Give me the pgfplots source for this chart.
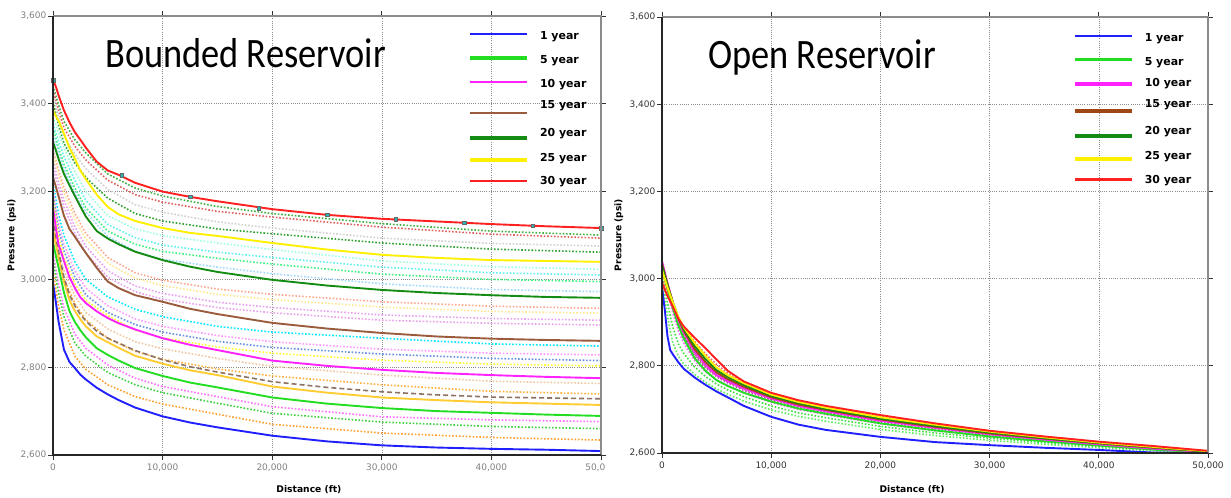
\documentclass[border=0pt]{standalone}
\usepackage{fontspec}
\setmainfont{DejaVu Sans}
\newfontfamily\titlefont{Carlito}
\usepackage{graphicx}
\usepackage{pgfplots}
\usepackage{pgfplotstable}
\pgfplotsset{compat=1.18}

\definecolor{c1y}{HTML}{2020FF}
\definecolor{c5y}{HTML}{22DD22}
\definecolor{c10y}{HTML}{FF22FF}
\definecolor{c15y}{HTML}{9A5C3C}
\definecolor{c15r}{HTML}{A04614}
\definecolor{c20y}{HTML}{148C14}
\definecolor{c25y}{HTML}{FFF000}
\definecolor{c30y}{HTML}{FF2020}
\definecolor{cgold}{HTML}{FFCC33}
\definecolor{cdash}{HTML}{8C7262}
\definecolor{cmark}{HTML}{30B4B4}
% pastel dotted curves
\definecolor{d1}{HTML}{40B040}
\definecolor{d2}{HTML}{E06060}
\definecolor{d3}{HTML}{D0D0D0}
\definecolor{d4}{HTML}{30A030}
\definecolor{d5}{HTML}{A0FFE0}
\definecolor{d6}{HTML}{60F0F0}
\definecolor{d7}{HTML}{40F080}
\definecolor{d8}{HTML}{A0D8FF}
\definecolor{d9}{HTML}{FFA890}
\definecolor{d10}{HTML}{FFE890}
\definecolor{d11}{HTML}{E8A0F0}
\definecolor{d12}{HTML}{E8A0E8}
\definecolor{d13}{HTML}{00E8FF}
\definecolor{d14}{HTML}{FF98FF}
\definecolor{d15}{HTML}{6890E0}
\definecolor{d16}{HTML}{FFFF30}
\definecolor{d17}{HTML}{F0C8A0}
\definecolor{d18}{HTML}{FFB040}
\definecolor{d19}{HTML}{FF70FF}
\definecolor{d20}{HTML}{40D040}
\definecolor{d21}{HTML}{FFA030}
\definecolor{o1}{HTML}{60F060}
\definecolor{o2}{HTML}{40E040}
\definecolor{o3}{HTML}{FF60FF}
\definecolor{o4}{HTML}{D040D0}
\definecolor{o5}{HTML}{E8E800}
\definecolor{o6}{HTML}{F06060}
\definecolor{o7}{HTML}{30A030}
\definecolor{o8}{HTML}{B08060}

% bounded reservoir, solid curves
\pgfplotstableread{
x     blue green gold dash mag  brown dgreen yellow red
0     2992 3085 3110 3140 3165 3233 3313 3386 3454
250   2950 3055 3080 3100 3120 3212 3295 3372 3440
500   2905 3028 3053 3065 3080 3190 3275 3362 3420
1000  2840 2970 2995 3005 3042 3145 3240 3332 3385
1500  2812 2928 2953 2965 3005 3115 3215 3300 3358
2000  2798 2903 2928 2940 2980 3097 3190 3275 3335
2500  2783 2884 2909 2920 2959 3078 3166 3248 3318
3000  2772 2868 2893 2905 2946 3060 3143 3228 3300
4000  2753 2843 2870 2882 2927 3026 3110 3193 3268
5000  2738 2828 2857 2866 2912 2995 3093 3165 3248
6000  2725 2815 2844 2855 2900 2980 3080 3148 3238
7500  2708 2798 2826 2838 2886 2964 3063 3133 3220
10000 2688 2780 2808 2817 2866 2949 3044 3117 3200
12500 2674 2765 2793 2801 2851 2933 3029 3106 3188
15000 2663 2754 2782 2789 2839 2921 3017 3099 3178
20000 2644 2731 2756 2767 2815 2901 2999 3083 3160
25000 2631 2717 2742 2754 2803 2888 2986 3068 3147
30000 2622 2707 2731 2744 2794 2878 2976 3056 3138
35000 2617 2700 2725 2737 2787 2870 2969 3049 3132
40000 2614 2696 2720 2732 2782 2865 2964 3044 3126
45000 2612 2692 2717 2730 2778 2862 2960 3042 3121
50000 2609 2689 2714 2728 2775 2860 2958 3040 3117
}\bsolid

% bounded reservoir, dotted curves
\pgfplotstableread{
x     d1   d2   d3   d4   d5   d6   d7   d8   d9   d10  d11  d12  d13  d14  d15  d16  d17  d18  d19  d20  d21
0     3441 3432 3420 3405 3370 3355 3345 3330 3295 3285 3270 3255 3220 3205 3195 3185 3150 3130 3060 3045 3020
500   3398 3385 3370 3352 3335 3315 3300 3290 3250 3238 3222 3208 3150 3130 3115 3100 3065 3045 2990 2970 2940
1000  3360 3345 3328 3310 3300 3280 3262 3252 3210 3197 3180 3165 3100 3080 3065 3050 3020 3000 2935 2915 2885
2000  3318 3303 3285 3265 3245 3225 3208 3198 3150 3137 3120 3105 3040 3020 3005 2990 2962 2945 2875 2855 2825
3000  3288 3272 3252 3232 3200 3180 3163 3153 3105 3092 3075 3060 3000 2980 2965 2952 2925 2908 2843 2825 2795
5000  3240 3226 3205 3185 3145 3125 3110 3098 3050 3037 3020 3005 2960 2940 2925 2918 2887 2866 2805 2788 2760
7500  3208 3193 3170 3150 3115 3095 3080 3064 3015 3003 2985 2972 2932 2910 2897 2884 2858 2836 2775 2760 2733
10000 3190 3176 3153 3133 3100 3078 3064 3046 2998 2986 2968 2955 2915 2893 2880 2867 2842 2818 2756 2742 2716
15000 3166 3155 3131 3115 3083 3062 3048 3028 2978 2966 2948 2936 2893 2872 2859 2846 2820 2796 2733 2718 2693
20000 3150 3142 3117 3104 3068 3050 3035 3013 2966 2954 2936 2924 2880 2858 2845 2832 2802 2780 2710 2695 2670
30000 3127 3119 3094 3083 3042 3028 3012 2990 2949 2937 2919 2907 2866 2841 2830 2816 2782 2760 2687 2675 2650
40000 3110 3103 3082 3069 3029 3015 3000 2977 2939 2927 2911 2900 2853 2832 2820 2807 2768 2745 2680 2665 2640
50000 3101 3094 3076 3062 3023 3010 2995 2972 2934 2923 2907 2896 2848 2828 2815 2803 2763 2739 2676 2660 2634
}\bdot

% open reservoir, solid curves
\pgfplotstableread{
x     blue green mag  brown dgreen yellow red
0     2981 3030 3040 3035 3030 3020 2990
250   2930 3005 3015 3011 3007 3000 2975
500   2868 2980 2990 2988 2985 2980 2960
750   2836 2955 2967 2966 2964 2962 2948
1000  2826 2932 2945 2945 2945 2945 2935
1500  2808 2892 2905 2908 2910 2912 2908
2000  2793 2862 2876 2880 2884 2888 2890
3000  2773 2817 2832 2838 2845 2852 2864
4000  2756 2788 2802 2808 2815 2822 2840
5000  2741 2767 2779 2785 2790 2796 2814
6000  2728 2754 2765 2770 2775 2779 2789
7500  2708 2738 2748 2752 2756 2760 2764
10000 2683 2718 2725 2728 2731 2734 2738
12500 2665 2702 2708 2711 2714 2717 2721
15000 2653 2690 2696 2699 2701 2704 2708
20000 2637 2668 2674 2677 2679 2682 2687
25000 2625 2652 2658 2660 2662 2665 2668
30000 2618 2638 2643 2645 2647 2649 2651
35000 2612 2627 2631 2633 2634 2636 2638
40000 2607 2617 2620 2622 2623 2624 2626
45000 2601 2608 2610 2612 2613 2614 2616
50000 2600 2601 2602 2603 2603 2604 2605
}\osolid

% open reservoir, dotted curves
\pgfplotstableread{
x     o1   o2   o3   o4   o5   o6   o7   o8
0     2995 3010 3025 3032 3015 3000 3020 3028
250   2955 2978 2998 3006 2995 2984 2998 3003
500   2915 2945 2970 2980 2975 2968 2974 2978
750   2880 2915 2944 2956 2956 2954 2952 2955
1000  2852 2888 2920 2934 2938 2940 2932 2934
1500  2822 2850 2880 2895 2904 2910 2896 2897
2000  2804 2828 2852 2866 2878 2888 2868 2869
3000  2780 2797 2812 2823 2838 2855 2828 2827
4000  2762 2775 2786 2795 2808 2827 2800 2798
5000  2747 2758 2768 2775 2786 2803 2781 2777
6000  2735 2745 2755 2761 2771 2784 2767 2763
7500  2719 2729 2738 2743 2752 2762 2750 2746
10000 2699 2708 2716 2720 2728 2736 2727 2723
12500 2684 2692 2700 2704 2712 2719 2710 2707
15000 2673 2681 2688 2692 2700 2706 2698 2695
20000 2654 2661 2667 2671 2679 2685 2677 2674
25000 2640 2646 2651 2655 2662 2666 2660 2657
30000 2629 2634 2638 2641 2647 2650 2645 2643
35000 2620 2624 2627 2630 2634 2637 2633 2631
40000 2612 2615 2617 2619 2623 2625 2622 2620
45000 2605 2607 2608 2609 2612 2614 2611 2610
50000 2600 2601 2601 2601 2602 2604 2602 2601
}\odot

\pgfplotsset{
  resv/.style={
    scale only axis, clip mode=individual,
    xmin=0, xmax=50000, ymin=2600, ymax=3600,
    xtick={0,10000,...,50000}, ytick={2600,2800,...,3600},
    scaled x ticks=false, scaled y ticks=false,
    /pgf/number format/1000 sep={,},
    /pgf/number format/assume math mode=true,
    tick align=outside, major tick length=5bp,
    tick style={black!80, line width=0.8bp},
    axis line style={draw=none},
    grid=major, grid style={black!45, line width=0.6bp, dash pattern=on 1bp off 1.2bp},
    ticklabel style={font=\fontsize{9}{10}\selectfont},
    xticklabel style={inner sep=1bp, yshift=-3bp},
    yticklabel style={inner sep=1.5bp},
    label style={font=\bfseries\fontsize{9.2}{10}\selectfont},
    xlabel={Distance (ft)}, ylabel={Pressure (psi)},
    legend style={draw=none, fill=none, inner sep=0pt, outer sep=0pt,
      row sep=11bp, column sep=13bp, anchor=north west,
      font=\bfseries\fontsize{11}{12}\selectfont,
      nodes={inner sep=0pt, text height=8bp, text depth=2bp}},
    legend cell align=left,
    legend image code/.code={%
      \pgfpathrectangle{\pgfpoint{0bp}{-2bp}}{\pgfpoint{57bp}{10bp}}%
      \pgfusepath{use as bounding box}%
      \pgfinterruptboundingbox
      \draw[overlay,##1] (0bp,3bp) -- (57bp,3bp);%
      \endpgfinterruptboundingbox},
  },
  sol/.style={line width=1.9bp, forget plot},
  dotl/.style={line width=1.6bp, dash pattern=on 1.6bp off 1.8bp, forget plot},
}

\begin{document}
\begin{tikzpicture}
\useasboundingbox (0,0) rectangle (1231bp,498bp);

% ---------- Bounded reservoir ----------
\begin{axis}[resv, at={(53bp,43bp)}, anchor=south west, width=548bp, height=439bp,
  ticklabel style={text=black!50},
  xticklabels={0,{10,000},{20,000},{30,000},{40,000},{\rlap{50,0}\phantom{50,000}}},
  xlabel style={at={(rel axis cs:0.467,-0.08)}, anchor=center},
  ylabel style={at={(rel axis cs:-0.075,0.5)}, anchor=center},
  legend style={at={(rel axis cs:0.761,0.9705)}}]
\foreach \c in {d1,d2,d3,d4,d5,d6,d7,d8,d9,d10,d11,d12,d13,d14,d15,d16,d17,d18,d19,d20,d21}{
  \edef\tmp{\noexpand\addplot[dotl, color=\c] table[x=x, y=\c] {\noexpand\bdot};}\tmp
}
\addplot[sol, color=c1y] table[x=x, y=blue] {\bsolid};
\addplot[sol, color=c5y] table[x=x, y=green] {\bsolid};
\addplot[sol, color=cgold] table[x=x, y=gold] {\bsolid};
\addplot[sol, color=cdash, line width=1.6bp, dash pattern=on 5bp off 3bp] table[x=x, y=dash] {\bsolid};
\addplot[sol, color=c10y] table[x=x, y=mag] {\bsolid};
\addplot[sol, color=c15y] table[x=x, y=brown] {\bsolid};
\addplot[sol, color=c20y] table[x=x, y=dgreen] {\bsolid};
\addplot[sol, color=c25y] table[x=x, y=yellow] {\bsolid};
\addplot[sol, color=c30y] table[x=x, y=red] {\bsolid};
\addplot[only marks, forget plot, mark=square*, mark size=1.7bp,
  mark options={fill=cmark, draw=black!60, line width=0.4bp}]
  coordinates {(0,3454) (6250,3237) (12500,3188) (18750,3162) (25000,3147)
               (31250,3137) (37500,3129) (43750,3122) (50000,3117)};
\draw[black!45, line width=1.2bp] (rel axis cs:0,1) -- (rel axis cs:1,1) -- (rel axis cs:1,0);
\draw[black!85, line width=1.2bp] (rel axis cs:0,1) -- (rel axis cs:0,0) -- (rel axis cs:1,0);
\addlegendimage{c1y, line width=2.6bp}\addlegendentry{1 year}
\addlegendimage{c5y, line width=4bp}\addlegendentry{5 year}
\addlegendimage{c10y, line width=2.6bp}\addlegendentry{10 year}
\addlegendimage{c15y, line width=2.6bp, yshift=-10bp}\addlegendentry{15 year}
\addlegendimage{c20y, line width=4bp, yshift=-7bp}\addlegendentry{20 year}
\addlegendimage{c25y, line width=4bp, yshift=-4bp}\addlegendentry{25 year}
\addlegendimage{c30y, line width=2.6bp, yshift=-2bp}\addlegendentry{30 year}
\end{axis}

% ---------- Open reservoir ----------
\begin{axis}[resv, at={(662bp,45bp)}, anchor=south west, width=546bp, height=436bp,
  ticklabel style={text=black!80},
  xlabel style={at={(rel axis cs:0.458,-0.085)}, anchor=center},
  ylabel style={at={(rel axis cs:-0.079,0.5)}, anchor=center},
  legend style={at={(rel axis cs:0.756,0.968)}}]
\foreach \c in {o1,o2,o3,o4,o5,o6,o7,o8}{
  \edef\tmp{\noexpand\addplot[dotl, color=\c] table[x=x, y=\c] {\noexpand\odot};}\tmp
}
\addplot[sol, color=c1y] table[x=x, y=blue] {\osolid};
\addplot[sol, color=c5y] table[x=x, y=green] {\osolid};
\addplot[sol, color=c10y] table[x=x, y=mag] {\osolid};
\addplot[sol, color=c15r] table[x=x, y=brown] {\osolid};
\addplot[sol, color=c20y] table[x=x, y=dgreen] {\osolid};
\addplot[sol, color=c25y] table[x=x, y=yellow] {\osolid};
\addplot[sol, color=c30y] table[x=x, y=red] {\osolid};
\draw[black!45, line width=1.2bp] (rel axis cs:0,1) -- (rel axis cs:1,1) -- (rel axis cs:1,0);
\draw[black!85, line width=1.2bp] (rel axis cs:0,1) -- (rel axis cs:0,0) -- (rel axis cs:1,0);
\addlegendimage{c1y, line width=2.4bp}\addlegendentry{1 year}
\addlegendimage{c5y, line width=3bp}\addlegendentry{5 year}
\addlegendimage{c10y, line width=4.2bp, yshift=-3bp}\addlegendentry{10 year}
\addlegendimage{c15r, line width=4.2bp, yshift=-9bp}\addlegendentry{15 year}
\addlegendimage{c20y, line width=4.2bp, yshift=-7bp}\addlegendentry{20 year}
\addlegendimage{c25y, line width=4.2bp, yshift=-5bp}\addlegendentry{25 year}
\addlegendimage{c30y, line width=3bp, yshift=-2bp}\addlegendentry{30 year}
\end{axis}

\node[anchor=base west, inner sep=0pt] at (105bp,430bp)
  {\scalebox{0.87}[1]{\titlefont\fontsize{42}{42}\selectfont Bounded Reservoir}};
\node[anchor=base west, inner sep=0pt] at (708bp,429bp)
  {\scalebox{0.87}[1]{\titlefont\fontsize{42}{42}\selectfont Open Reservoir}};
\end{tikzpicture}
\end{document}
